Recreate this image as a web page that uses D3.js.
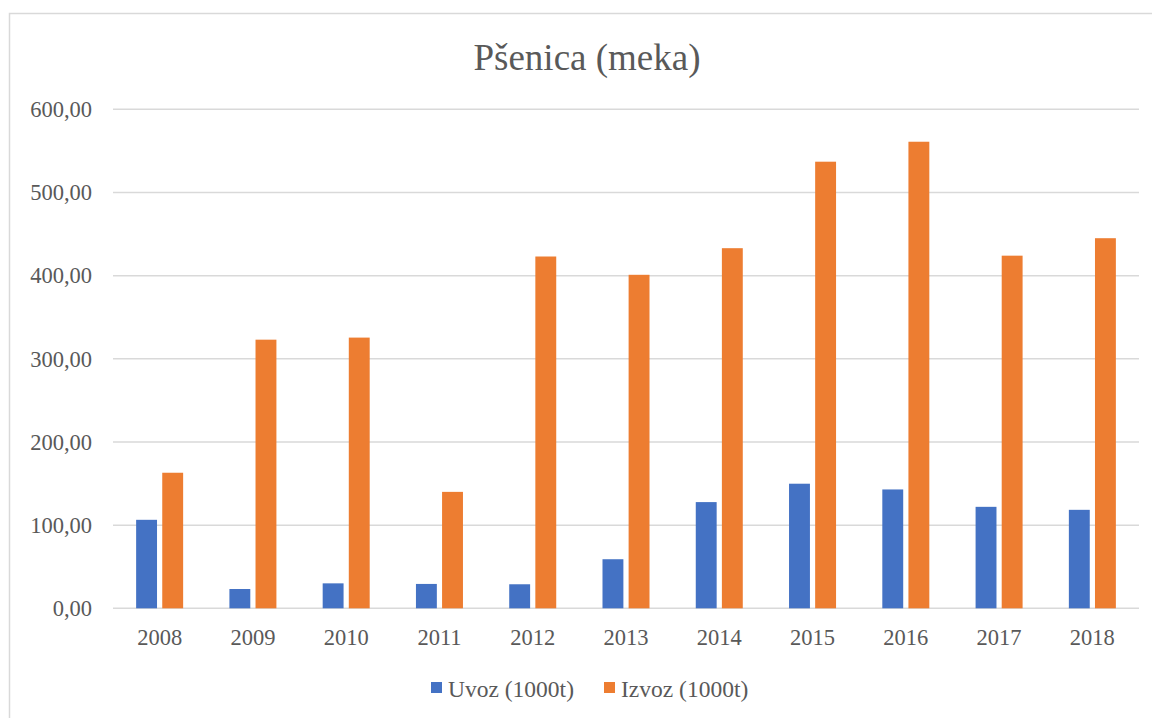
<!DOCTYPE html>
<html>
<head>
<meta charset="utf-8">
<script src="https://cdn.jsdelivr.net/npm/d3@7"></script>
<style>
  body { margin: 0; background: #fff; }
  svg text { font-family: "Liberation Serif", "DejaVu Serif", "Times New Roman", Times, serif !important; fill: #595959; }
</style>
</head>
<body>
<div id="chart"></div>
<script>
// data
const years = ["2008", "2009", "2010", "2011", "2012", "2013", "2014", "2015", "2016", "2017", "2018"];
const uvoz = [106.4, 23.2, 30.0, 29.3, 28.9, 59.0, 127.7, 149.8, 142.9, 122.0, 118.4];
const izvoz = [163.0, 323.0, 325.5, 140.0, 423.0, 401.0, 433.0, 537.0, 561.0, 424.0, 445.0];
const seriesNames = ["Uvoz (1000t)", "Izvoz (1000t)"];
const yTicks = [0, 100, 200, 300, 400, 500, 600];

const width = 1152, height = 718;
const margin = {top: 109.3, bottom: 718 - 608.3, left: 113, right: 1152 - 1139};
const colors = ["#4472C4", "#ED7D31"];

const svg = d3.select("#chart")
    .append("svg")
    .attr("width", width)
    .attr("height", height);

// outer chart frame
svg.append("rect")
    .attr("x", 9.5)
    .attr("y", 13.5)
    .attr("width", 1160)
    .attr("height", 720)
    .attr("fill", "none")
    .attr("stroke", "#d9d9d9")
    .attr("stroke-width", 1.5);

svg.append("text")
    .attr("x", 587)
    .attr("y", 70)
    .attr("text-anchor", "middle")
    .style("font-size", "37px")
    .text("Pšenica (meka)");

const y = d3.scaleLinear()
    .domain([0, 600])
    .range([height - margin.bottom, margin.top]);

const x0 = d3.scaleBand()
    .domain(years)
    .range([margin.left, width - margin.right])
    .paddingInner(0.496)
    .paddingOuter(0.248);

const x1 = d3.scaleBand()
    .domain([0, 1])
    .range([0, x0.bandwidth()])
    .paddingInner(0.2);

// gridlines
svg.append("g")
    .selectAll("line")
    .data(yTicks)
    .enter()
    .append("line")
    .attr("x1", margin.left)
    .attr("x2", width - margin.right)
    .attr("y1", d => y(d))
    .attr("y2", d => y(d))
    .attr("stroke", "#d9d9d9")
    .attr("stroke-width", 1.5);

// y labels
const yAxis = svg.append("g")
    .attr("transform", `translate(92,0)`)
    .call(d3.axisLeft(y).tickValues(yTicks).tickSize(0).tickPadding(0)
        .tickFormat(d => d3.format(".2f")(d).replace(".", ",")));
yAxis.attr("font-family", null);
yAxis.select(".domain").remove();
yAxis.selectAll("text")
    .style("font-size", "22.5px")
    .attr("fill", "#595959");

// x labels
const xAxis = svg.append("g")
    .attr("transform", `translate(0,${y(0)})`)
    .call(d3.axisBottom(x0.copy().paddingInner(0).paddingOuter(0)).tickSize(0).tickPadding(21));
xAxis.attr("font-family", null);
xAxis.select(".domain").remove();
xAxis.selectAll("text")
    .style("font-size", "22.5px")
    .attr("fill", "#595959");

// bars
const values = [uvoz, izvoz];
values.forEach((vals, s) => {
    svg.append("g")
        .selectAll("rect")
        .data(years)
        .enter()
        .append("rect")
        .attr("x", (d, i) => x0(d) + x1(s))
        .attr("y", (d, i) => y(vals[i]))
        .attr("width", x1.bandwidth())
        .attr("height", (d, i) => y(0) - y(vals[i]))
        .attr("fill", colors[s]);
});

// legend
const legendX = [431, 604];
seriesNames.forEach((name, i) => {
    svg.append("rect")
        .attr("x", legendX[i])
        .attr("y", 682)
        .attr("width", 11)
        .attr("height", 11)
        .attr("fill", colors[i]);
    svg.append("text")
        .attr("x", legendX[i] + 17)
        .attr("y", 697)
        .style("font-size", "23.5px")
        .text(name);
});
</script>
</body>
</html>
